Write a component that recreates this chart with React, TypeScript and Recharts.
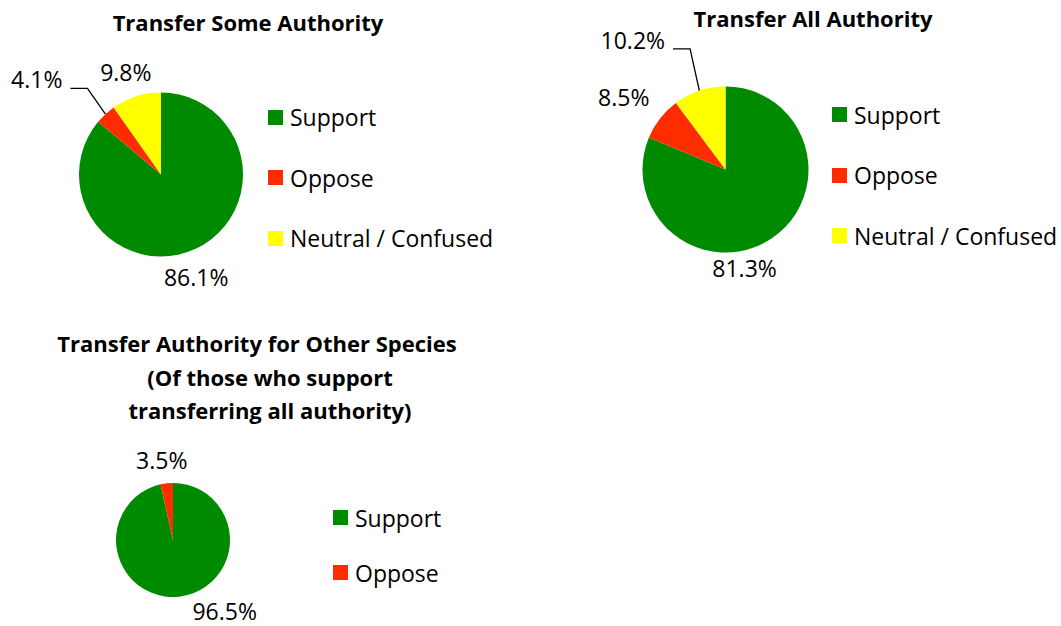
import React from 'react';
import { PieChart, Pie, Cell } from 'recharts';

// categories
const CATEGORIES = ['Support', 'Oppose', 'Neutral / Confused'];
const CATEGORIES_OTHER = ['Support', 'Oppose'];

// values (%)
const SOME_VALUES = [86.1, 4.1, 9.8];
const ALL_VALUES = [81.3, 8.5, 10.2];
const OTHER_VALUES = [96.5, 3.5];

const TITLE_SOME = ['Transfer Some Authority'];
const TITLE_ALL = ['Transfer All Authority'];
const TITLE_OTHER = ['Transfer Authority for Other Species', '(Of those who support', 'transferring all authority)'];

const COLORS = ['#008a00', '#ff2c00', '#ffff00'];
const FONT = '"Open Sans", sans-serif';
const RAD = Math.PI / 180;

// label placement: angle (deg, ccw from 3 o'clock), distance beyond the rim, leader line
type Place = { angle: number; gap: number; leader?: boolean };
const SOME_PLACE: Place[] = [
  { angle: -71, gap: 26 },
  { angle: 136, gap: 55, leader: true },
  { angle: 109, gap: 26 },
];
const ALL_PLACE: Place[] = [
  { angle: -79, gap: 17 },
  { angle: 144.5, gap: 42 },
  { angle: 115, gap: 60, leader: true },
];
const OTHER_PLACE: Place[] = [
  { angle: -54, gap: 31 },
  { angle: 98, gap: 24 },
];

const toRows = (names: string[], values: number[]) => names.map((name, i) => ({ name, value: values[i] }));

const makeLabel = (places: Place[]) => (props: any) => {
  const { cx, cy, outerRadius, midAngle, value, index } = props;
  const p = places[index];
  const d = outerRadius + p.gap;
  const x = cx + d * Math.cos(p.angle * RAD);
  const y = cy - d * Math.sin(p.angle * RAD);
  const text = `${value.toFixed(1)}%`;
  if (p.leader) {
    const ex = cx + outerRadius * Math.cos(midAngle * RAD);
    const ey = cy - outerRadius * Math.sin(midAngle * RAD);
    const ly = y + 9;
    return (
      <g>
        <polyline points={`${x + 8},${ly} ${x + 25},${ly} ${ex},${ey}`} fill="none" stroke="#000" strokeWidth={1.3} />
        <text x={x} y={y} textAnchor="end" dominantBaseline="central" fontSize={23} fontFamily={FONT} fill="#000">{text}</text>
      </g>
    );
  }
  return (
    <text x={x} y={y} textAnchor="middle" dominantBaseline="central" fontSize={23} fontFamily={FONT} fill="#000">{text}</text>
  );
};

const Title = ({ lines, centers, top, lh }: { lines: string[]; centers: number[]; top: number; lh: number }) => (
  <div style={{ position: 'absolute', left: 0, top, fontFamily: FONT, fontWeight: 700, fontSize: 22, lineHeight: `${lh}px`, color: '#000' }}>
    {lines.map((l, i) => (
      <div key={l} style={{ position: 'absolute', left: centers[i] - 300, top: i * lh, width: 600, textAlign: 'center', whiteSpace: 'nowrap' }}>{l}</div>
    ))}
  </div>
);

const LegendBox = ({ names, left, top, step }: { names: string[]; left: number; top: number; step: number }) => (
  <div style={{ position: 'absolute', left, top, fontFamily: FONT, fontSize: 23, color: '#000' }}>
    {names.map((n, i) => (
      <div key={n} style={{ position: 'absolute', top: i * step, left: 0, display: 'flex', alignItems: 'center', whiteSpace: 'nowrap', height: 30 }}>
        <span style={{ display: 'inline-block', width: 15, height: 15, background: COLORS[i], marginRight: 7 }} />
        <span>{n}</span>
      </div>
    ))}
  </div>
);

export default function App() {
  const some = toRows(CATEGORIES, SOME_VALUES);
  const all = toRows(CATEGORIES, ALL_VALUES);
  const other = toRows(CATEGORIES_OTHER, OTHER_VALUES);
  return (
    <div style={{ position: 'absolute', left: 0, top: 0, width: 1061, height: 626, background: '#fff', overflow: 'hidden' }}>
      <PieChart width={1061} height={626} margin={{ top: 0, right: 0, bottom: 0, left: 0 }} style={{ position: 'absolute', left: 0, top: 0 }}>
        <Pie data={some} dataKey="value" cx={161} cy={174.5} outerRadius={82} startAngle={90} endAngle={-270}
          stroke="none" isAnimationActive={false} labelLine={false} label={makeLabel(SOME_PLACE)}>
          {some.map((d, i) => <Cell key={d.name} fill={COLORS[i]} />)}
        </Pie>
        <Pie data={all} dataKey="value" cx={725.5} cy={169.5} outerRadius={83} startAngle={90} endAngle={-270}
          stroke="none" isAnimationActive={false} labelLine={false} label={makeLabel(ALL_PLACE)}>
          {all.map((d, i) => <Cell key={d.name} fill={COLORS[i]} />)}
        </Pie>
        <Pie data={other} dataKey="value" cx={173} cy={540} outerRadius={57} startAngle={90} endAngle={-270}
          stroke="none" isAnimationActive={false} labelLine={false} label={makeLabel(OTHER_PLACE)}>
          {other.map((d, i) => <Cell key={d.name} fill={COLORS[i]} />)}
        </Pie>
      </PieChart>
      <Title lines={TITLE_SOME} centers={[248]} top={7} lh={30} />
      <Title lines={TITLE_ALL} centers={[813]} top={3} lh={30} />
      <Title lines={TITLE_OTHER} centers={[257, 270, 270]} top={327} lh={33.5} />
      <LegendBox names={CATEGORIES} left={268} top={102} step={60.5} />
      <LegendBox names={CATEGORIES} left={832} top={99.5} step={60.5} />
      <LegendBox names={CATEGORIES_OTHER} left={333} top={502.5} step={55} />
    </div>
  );
}
